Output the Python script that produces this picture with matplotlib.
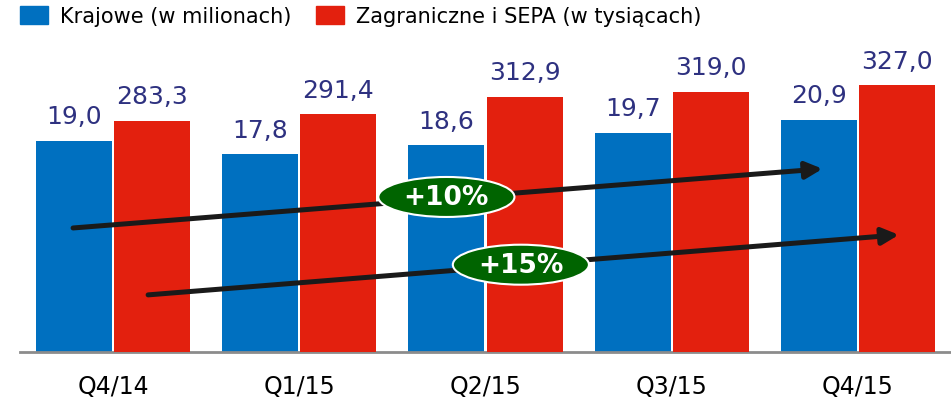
import numpy as np
import matplotlib.pyplot as plt
from matplotlib.patches import Ellipse, Patch

# ===== data =====
quarters = ["Q4/14", "Q1/15", "Q2/15", "Q3/15", "Q4/15"]
domestic = [19.0, 17.8, 18.6, 19.7, 20.9]          # millions
foreign = [283.3, 291.4, 312.9, 319.0, 327.0]      # thousands
domestic_label = "Krajowe (w milionach)"
foreign_label = "Zagraniczne i SEPA (w tysiącach)"
growth_labels = ["+10%", "+15%"]

blue = "#0070C0"
red = "#E3200E"
navy = "#2E3180"
green = "#006400"

W, H = 951, 406
fig = plt.figure(figsize=(W / 100, H / 100), dpi=100)
ax = fig.add_axes([20 / W, 53 / H, 931 / W, 313 / H])
ax2 = ax.twinx()

x = np.arange(len(quarters))
bw = 0.409
off = 0.21

b1 = ax.bar(x - off, domestic, width=bw, color=blue)
b2 = ax2.bar(x + off, foreign, width=bw, color=red)

ax.set_xlim(-0.5, 4.5)
ax.set_ylim(0, 28.15)
ax2.set_ylim(0, 383.6)

for axis in (ax, ax2):
    for s in ["top", "right", "left"]:
        axis.spines[s].set_visible(False)
    axis.set_yticks([])
ax.spines["bottom"].set_color("#8c8c8c")
ax.spines["bottom"].set_linewidth(2)
ax2.spines["bottom"].set_visible(False)

ax.set_xticks(x)
ax.set_xticklabels(quarters, fontsize=17)
ax.tick_params(axis="x", length=0, pad=16)

for xi, v in zip(x, domestic):
    ax.annotate(f"{v:.1f}".replace(".", ","), (xi - off, v), xytext=(0, 9),
                textcoords="offset points", ha="center", va="bottom",
                fontsize=18, color=navy)
for xi, v in zip(x, foreign):
    ax2.annotate(f"{v:.1f}".replace(".", ","), (xi + off, v), xytext=(0, 9),
                 textcoords="offset points", ha="center", va="bottom",
                 fontsize=18, color=navy)

# trend arrows (red-axis data coords)
arrows = [((-0.215, 152), (3.81, 224.5)), ((0.188, 70), (4.22, 143.6))]
for (x0, y0), (x1, y1) in arrows:
    ax2.annotate("", xy=(x1, y1), xytext=(x0, y0),
                 arrowprops=dict(arrowstyle="-|>,head_length=1.0,head_width=0.5",
                                 color="#1a1a1a", lw=3.6, shrinkA=0, shrinkB=0))

badges = [(1.79, 190), (2.19, 107)]
for (cx, cy), txt in zip(badges, growth_labels):
    ax2.add_patch(Ellipse((cx, cy), 0.731, 49, facecolor=green, edgecolor="white",
                          lw=1.5, zorder=5))
    ax2.text(cx, cy, txt, ha="center", va="center", color="white",
             fontsize=19, fontweight="bold", zorder=6)

handles = [Patch(color=blue), Patch(color=red)]
fig.legend(handles, [domestic_label, foreign_label], loc="center left",
           bbox_to_anchor=(20 / W, 1 - 17 / H), ncol=2, frameon=False,
           fontsize=15, handlelength=1.35, handleheight=0.96,
           handletextpad=0.58, columnspacing=1.15, borderpad=0, borderaxespad=0)

fig.savefig("out.png", dpi=100)
